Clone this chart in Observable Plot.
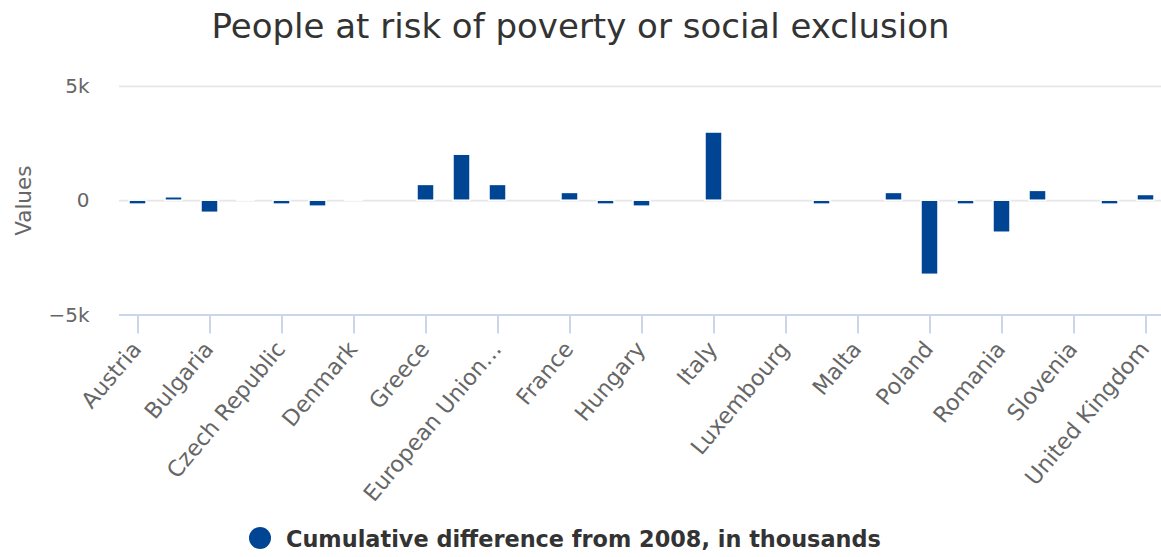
<!DOCTYPE html>
<html><head><meta charset="utf-8">
<script src="https://cdn.jsdelivr.net/npm/d3@7"></script>
<script src="https://cdn.jsdelivr.net/npm/@observablehq/plot@0.6"></script>
<style>
html,body{margin:0;padding:0;background:#fff;}
body{width:1161px;height:557px;overflow:hidden;font-family:"DejaVu Sans",sans-serif;position:relative;}
#title{position:absolute;left:0;top:0;width:1161px;height:52px;line-height:52px;text-align:center;font-size:34px;color:#333;white-space:nowrap;}
#chart{position:absolute;left:0;top:52px;}
#legend{position:absolute;left:249px;top:527px;height:22px;display:flex;align-items:center;}
#legend .dot{display:block;width:22px;height:22px;border-radius:50%;background:#004494;}
#legend .lab{margin-left:15px;font-weight:bold;font-size:22.4px;color:#333;line-height:22px;position:relative;top:1px;white-space:nowrap;}
</style></head><body>
<div id="chart"></div>
<div id="title"></div>
<div id="legend"><span class="dot"></span><span class="lab"></span></div>
<script>
const chartTitle = "People at risk of poverty or social exclusion";
const seriesName = "Cumulative difference from 2008, in thousands";
const yAxisTitle = "Values";
const countries = ["Austria","Belgium","Bulgaria","Cyprus","Czech Republic","Germany","Denmark","Estonia","Greece","Spain","European Union (28 countries)","Finland","France","Croatia","Hungary","Ireland","Italy","Lithuania","Luxembourg","Latvia","Malta","Netherlands","Poland","Portugal","Romania","Sweden","Slovenia","Slovakia","United Kingdom"];
const values = [-0.17,0.15,-0.53,0.03,-0.17,-0.26,0.03,null,0.69,2.01,0.69,null,0.34,-0.17,-0.26,null,2.98,null,null,-0.17,null,0.34,-3.24,-0.17,-1.40,0.43,null,-0.17,0.25];
const labeledCountries = countries.filter((d, i) => i % 2 === 0);
const yTicks = [-5, 0, 5];
const barColor = "#004494";

const data = countries.map((c, i) => ({country: c, value: values[i]})).filter(d => d.value !== null);
const fmtX = d => d.length > 16 ? d.slice(0, 14) + "\u2026" : d;
const fmtY = d => d === 0 ? "0" : (d < 0 ? "\u2212" : "") + Math.abs(d) + "k";

const W = 1161, H = 465, mTop = 33.8, mBottom = 202.4, mLeft = 119;
const step = 36.08, first = 136.8;
const r0 = first - step / 2;
const chart = Plot.plot({
  width: W, height: H,
  marginTop: mTop, marginBottom: mBottom, marginLeft: mLeft, marginRight: 0,
  style: {fontFamily: "DejaVu Sans", fontSize: "20px", color: "#666", background: "transparent", overflow: "visible"},
  x: {type: "band", domain: countries, range: [r0, r0 + step * countries.length], paddingInner: 0.515, paddingOuter: 0.2575, axis: null},
  y: {domain: [-5, 5], axis: null},
  marks: [
    Plot.ruleY(yTicks.filter(d => d !== -5), {stroke: "#e6e6e6", strokeWidth: 1.8}),
    Plot.barY(data, {x: "country", y: "value", fill: barColor, stroke: "white", strokeWidth: 1.5}),
    Plot.ruleY([-5], {stroke: "#ccd6eb", strokeWidth: 2}),
    Plot.axisX({ticks: labeledCountries, tickSize: 19, stroke: "#ccd6eb", strokeWidth: 2, fill: "none", label: null}),
    Plot.axisX({ticks: labeledCountries, tickSize: 0, tickPadding: 30, tickRotate: -50, tickFormat: fmtX, fontSize: 22.3, fill: "#666", label: null, dx: -1}),
    Plot.axisY({ticks: yTicks, tickSize: 0, tickPadding: 30, tickFormat: fmtY, fontSize: 20, fill: "#666", label: null}),
    Plot.axisY({ticks: yTicks, tickSize: 0, tickFormat: () => "", fontSize: 21.5, fill: "#666", label: yAxisTitle, labelAnchor: "center", labelArrow: "none", labelOffset: 103.5})
  ]
});
document.getElementById("chart").appendChild(chart);
document.getElementById("title").textContent = chartTitle;
document.querySelector("#legend .lab").textContent = seriesName;
</script>
</body></html>
